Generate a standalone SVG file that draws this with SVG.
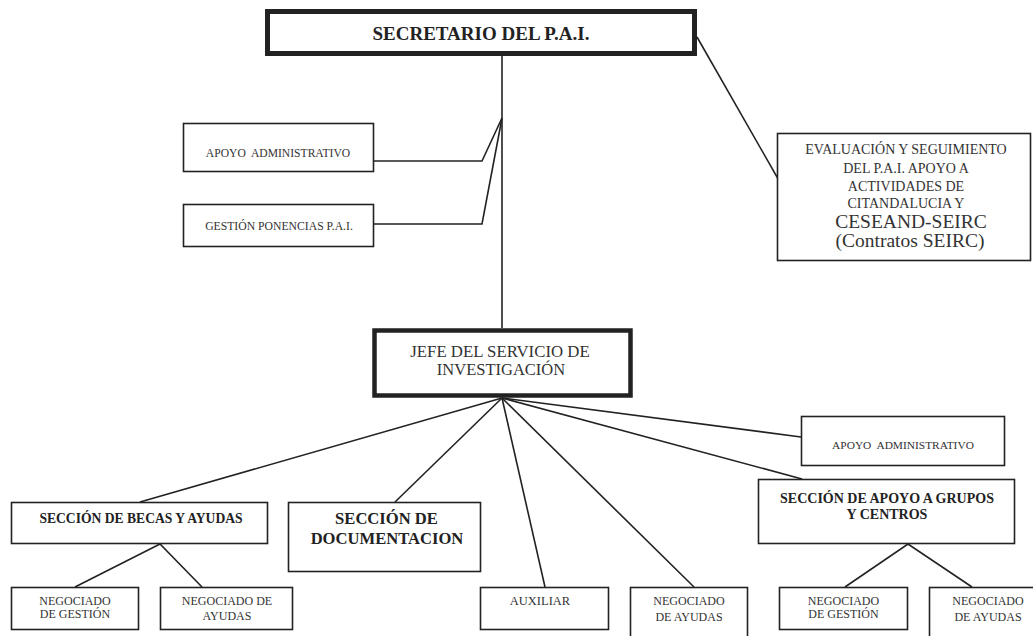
<svg xmlns="http://www.w3.org/2000/svg" width="1033" height="636" viewBox="0 0 1033 636">
<defs>
<style>
.box{fill:#fff;stroke:#222;stroke-width:1.6}
.thick{fill:#fff;stroke:#222;stroke-width:5}
.t{font-family:"Liberation Serif","Times New Roman",serif;fill:#333;text-anchor:middle}
.b{font-family:"Liberation Serif","Times New Roman",serif;fill:#222;font-weight:bold;text-anchor:middle}
.c{fill:none;stroke:#222;stroke-width:1.6}
</style>
<clipPath id="docclip"><rect x="289" y="503" width="174" height="68"/></clipPath>
</defs>
<rect width="1033" height="636" fill="#fff"/>
<g id="connectors">
<line class="c" x1="502" y1="56" x2="502" y2="328"/>
<polyline class="c" points="374,161 482,161 502,118"/>
<polyline class="c" points="374,224 482,224 502,118"/>
<line class="c" x1="697" y1="37" x2="781" y2="184"/>
<line class="c" x1="502" y1="398" x2="140" y2="502"/>
<line class="c" x1="502" y1="398" x2="395" y2="502"/>
<line class="c" x1="502" y1="398" x2="545" y2="587"/>
<line class="c" x1="502" y1="398" x2="694" y2="587"/>
<line class="c" x1="502" y1="398" x2="801" y2="437"/>
<line class="c" x1="502" y1="398" x2="802" y2="479"/>
<polyline class="c" points="75,587 160,544 202,587"/>
<polyline class="c" points="845,587 908,544 972,587"/>
</g>
<g id="secretario">
<rect class="thick" x="267.5" y="11.5" width="427" height="42"/>
<text class="b" x="481" y="40" font-size="19">SECRETARIO DEL P.A.I.</text>
</g>
<g id="apoyo-admin-1">
<rect class="box" x="183.5" y="123.5" width="190" height="48"/>
<text class="t" x="278" y="157" font-size="11.6" xml:space="preserve">APOYO  ADMINISTRATIVO</text>
</g>
<g id="gestion-ponencias">
<rect class="box" x="183.5" y="204.5" width="190" height="42"/>
<text class="t" x="279" y="230" font-size="11.7">GESTIÓN PONENCIAS P.A.I.</text>
</g>
<g id="evaluacion">
<rect class="box" x="777.5" y="133.5" width="253" height="127"/>
<text class="t" x="906" y="154" font-size="14">EVALUACIÓN Y SEGUIMIENTO</text>
<text class="t" x="906" y="173" font-size="14">DEL P.A.I. APOYO A</text>
<text class="t" x="906" y="191" font-size="14">ACTIVIDADES DE</text>
<text class="t" x="906" y="208" font-size="14">CITANDALUCIA Y</text>
<text class="t" x="911" y="228" font-size="19.5">CESEAND-SEIRC</text>
<text class="t" x="910" y="247" font-size="19.5">(Contratos SEIRC)</text>
</g>
<g id="jefe">
<rect class="box" style="stroke-width:4.5" x="374.5" y="330.5" width="256" height="65"/>
<text class="t" x="500" y="357" font-size="16.8">JEFE DEL SERVICIO DE</text>
<text class="t" x="501" y="375" font-size="16.5">INVESTIGACIÓN</text>
</g>
<g id="becas">
<rect class="box" x="11.5" y="502.5" width="256" height="41"/>
<text class="b" x="141" y="523" font-size="13.6">SECCIÓN DE BECAS Y AYUDAS</text>
</g>
<g id="documentacion">
<rect class="box" x="288.5" y="502.5" width="192" height="69"/>
<text class="b" x="386.5" y="524" font-size="16.6">SECCIÓN DE</text>
<text class="b" x="387" y="544" font-size="16.6" clip-path="url(#docclip)">DOCUMENTACION</text>
</g>
<g id="apoyo-admin-2">
<rect class="box" x="801.5" y="416.5" width="203" height="49"/>
<text class="t" x="903" y="449" font-size="11.4" xml:space="preserve">APOYO  ADMINISTRATIVO</text>
</g>
<g id="grupos">
<rect class="box" x="758.5" y="479.5" width="256" height="64"/>
<text class="b" x="887" y="503" font-size="14">SECCIÓN DE APOYO A GRUPOS</text>
<text class="b" x="887" y="519" font-size="14">Y CENTROS</text>
</g>
<g id="neg-gestion-1">
<rect class="box" x="11.5" y="587.5" width="127" height="42"/>
<text class="t" x="75" y="605" font-size="12">NEGOCIADO</text>
<text class="t" x="75" y="618" font-size="12">DE GESTIÓN</text>
</g>
<g id="neg-ayudas-1">
<rect class="box" x="160.5" y="587.5" width="132" height="42"/>
<text class="t" x="227" y="605" font-size="12">NEGOCIADO DE</text>
<text class="t" x="227" y="620" font-size="12">AYUDAS</text>
</g>
<g id="auxiliar">
<rect class="box" x="480.5" y="587.5" width="128" height="42"/>
<text class="t" x="540" y="605" font-size="12.5">AUXILIAR</text>
</g>
<g id="neg-ayudas-2">
<rect class="box" x="630.5" y="587.5" width="117" height="60"/>
<text class="t" x="689" y="605" font-size="12">NEGOCIADO</text>
<text class="t" x="689" y="621" font-size="12">DE AYUDAS</text>
</g>
<g id="neg-gestion-2">
<rect class="box" x="779.5" y="587.5" width="128" height="42"/>
<text class="t" x="843.5" y="605" font-size="12">NEGOCIADO</text>
<text class="t" x="843.5" y="618" font-size="12">DE GESTIÓN</text>
</g>
<g id="neg-ayudas-3">
<rect class="box" x="929.5" y="587.5" width="120" height="60"/>
<text class="t" x="988" y="605" font-size="12">NEGOCIADO</text>
<text class="t" x="988" y="621" font-size="12">DE AYUDAS</text>
</g>
</svg>
